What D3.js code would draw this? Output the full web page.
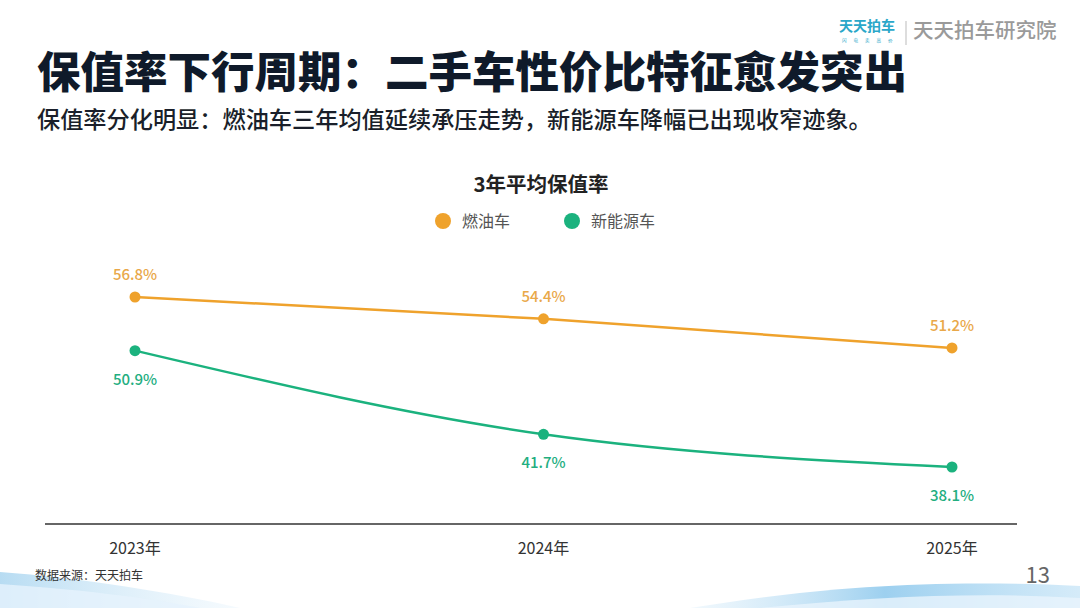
<!DOCTYPE html>
<html><head><meta charset="utf-8">
<script src="https://cdn.jsdelivr.net/npm/d3@7"></script>
<style>
html,body{margin:0;padding:0;background:#fff;}
svg{display:block;font-family:"Noto Sans CJK SC","Noto Sans",sans-serif;}
</style></head>
<body>
<svg id="chart" width="1080" height="608"></svg>
<script>
const years = ["2023年", "2024年", "2025年"];
const fuelValues = [56.8, 54.4, 51.2];
const nevValues = [50.9, 41.7, 38.1];
const seriesNames = ["燃油车", "新能源车"];
const seriesColors = ["#EFA22C", "#1BB27E"];
const labelColors = ["#E9A849", "#23AE7F"];
const labelPos = [["above","above","above"],["below","below","below"]];

const svg = d3.select("#chart");

// background waves
const defs = svg.append("defs");
const g1 = defs.append("linearGradient").attr("id","wl").attr("x1","0").attr("x2","1");
g1.append("stop").attr("offset","0").attr("stop-color","#9fd0ee").attr("stop-opacity",0.75);
g1.append("stop").attr("offset","1").attr("stop-color","#dff0fb").attr("stop-opacity",0.3);
const g2 = defs.append("linearGradient").attr("id","wr").attr("x1","0").attr("x2","1");
g2.append("stop").attr("offset","0").attr("stop-color","#cfe8f8").attr("stop-opacity",0.3);
g2.append("stop").attr("offset","0.5").attr("stop-color","#7cc0ea").attr("stop-opacity",0.75);
g2.append("stop").attr("offset","1").attr("stop-color","#b9def5").attr("stop-opacity",0.6);
svg.append("path").attr("d","M0,572 C80,578 170,592 240,608 L0,608 Z").attr("fill","url(#wl)");
svg.append("path").attr("d","M0,584 C90,590 160,600 200,608 L0,608 Z").attr("fill","#e6f3fc").attr("opacity",0.8);
svg.append("path").attr("d","M690,608 C800,590 920,578 1080,586 L1080,608 Z").attr("fill","url(#wr)");
svg.append("path").attr("d","M760,608 C880,596 980,592 1080,598 L1080,608 Z").attr("fill","#e8f4fc").attr("opacity",0.8);

// logo
svg.append("text").attr("x",839).attr("y",31).attr("font-size",14).attr("font-weight",700).attr("fill","#2aa7c9").text("天天拍车");
svg.append("text").attr("x",842).attr("y",41.5).attr("font-size",4.5).attr("fill","#2aa7c9").attr("letter-spacing",7).text("闪电卖高价");
svg.append("line").attr("x1",906).attr("x2",906).attr("y1",21).attr("y2",45).attr("stroke","#bbb").attr("stroke-width",1);
svg.append("text").attr("x",913).attr("y",38).attr("font-size",20.5).attr("font-weight",500).attr("fill","#9a9a9a").text("天天拍车研究院");

// titles
svg.append("text").attr("x",37).attr("y",88).attr("font-size",43.5).attr("font-weight",900).attr("fill","#0f1a2a").text("保值率下行周期：二手车性价比特征愈发突出");
svg.append("text").attr("x",37).attr("y",128).attr("font-size",23.2).attr("font-weight",500).attr("fill","#1a1f2a").text("保值率分化明显：燃油车三年均值延续承压走势，新能源车降幅已出现收窄迹象。");
svg.append("text").attr("x",541).attr("y",192).attr("text-anchor","middle").attr("font-size",20.5).attr("font-weight",700).attr("fill","#222").text("3年平均保值率");

// legend
const legendX = [443, 572];
seriesNames.forEach((n,i)=>{
  svg.append("circle").attr("cx",legendX[i]).attr("cy",221).attr("r",8).attr("fill",seriesColors[i]);
  svg.append("text").attr("x",legendX[i]+19).attr("y",227).attr("font-size",16).attr("fill","#555").text(n);
});

// scales
const x = d3.scalePoint().domain(years).range([135, 952]);
const y = d3.scaleLinear().domain([38.1, 56.8]).range([467, 297]);

// axis
const axisG = svg.append("g").attr("transform","translate(0,524)");
axisG.append("line").attr("x1",45).attr("x2",1017).attr("stroke","#333").attr("stroke-width",1.5);
axisG.selectAll("text.tick").data(years).join("text")
  .attr("x",d=>x(d)).attr("y",30).attr("text-anchor","middle")
  .attr("font-size",16).attr("fill","#333").text(d=>d);

// lines
const allSeries = [fuelValues, nevValues];
const line = d3.line().x((d,i)=>x(years[i])).y(d=>y(d)).curve(d3.curveMonotoneX);
allSeries.forEach((vals,si)=>{
  svg.append("path").attr("d",line(vals)).attr("fill","none").attr("stroke",seriesColors[si]).attr("stroke-width",2.5);
  svg.selectAll(null).data(vals).join("circle")
    .attr("cx",(d,i)=>x(years[i])).attr("cy",d=>y(d)).attr("r",5.5).attr("fill",seriesColors[si]);
  svg.selectAll(null).data(vals).join("text")
    .attr("x",(d,i)=>x(years[i])).attr("y",(d,i)=>labelPos[si][i]==="above"? y(d)-17 : y(d)+34)
    .attr("text-anchor","middle").attr("font-size",15).attr("font-weight",500).attr("fill",labelColors[si])
    .text(d=>d.toFixed(1)+"%");
});

// footer
svg.append("text").attr("x",35).attr("y",580).attr("font-size",12).attr("fill","#333").text("数据来源：天天拍车");
svg.append("text").attr("x",1050).attr("y",583).attr("text-anchor","end").attr("font-size",22).attr("fill","#666").text("13");
</script>
</body></html>
